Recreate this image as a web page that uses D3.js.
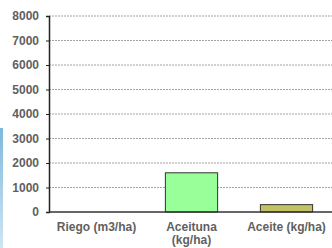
<!doctype html>
<html>
<head>
<meta charset="UTF-8">
<title>Riego / Aceituna / Aceite</title>
<script src="https://cdn.jsdelivr.net/npm/d3@7"></script>
<style>
    body { margin: 0; background: #fff; }
    .tick text { font-family: Arial, "Liberation Sans", sans-serif; font-weight: bold; fill: #5f5f5f; }
    .grid line { stroke: #8c8c8c; stroke-dasharray: 2,1; stroke-width: 0.8; }
</style>
</head>
<body>
<svg id="chart" width="332" height="248"></svg>
<script>
var categories = [["Riego (m3/ha)"], ["Aceituna", "(kg/ha)"], ["Aceite (kg/ha)"]];
var values = [0, 1600, 300];
var barColors = ["#99ff99", "#99ff99", "#c2c264"];
var yTicks = [0, 1000, 2000, 3000, 4000, 5000, 6000, 7000, 8000];

var svg = d3.select("#chart"),
    mLeft = 49, mRight = 334, mTop = 16, mBottom = 212;

var x = d3.scaleBand()
    .domain(d3.range(categories.length))
    .range([mLeft, mRight])
    .paddingInner(0.45)
    .paddingOuter(0.225);

var y = d3.scaleLinear().domain([0, 8000]).range([mBottom, mTop]);

// left edge decoration
var grad = svg.append("defs").append("linearGradient")
    .attr("id", "edge").attr("x1", 0).attr("x2", 0).attr("y1", 0).attr("y2", 1);
grad.append("stop").attr("offset", "0").attr("stop-color", "#7fb8dc");
grad.append("stop").attr("offset", "1").attr("stop-color", "#cfe6f3");
svg.append("rect").attr("x", 0).attr("y", 128).attr("width", 3).attr("height", 120)
    .attr("fill", "url(#edge)");

// gridlines
svg.append("g").attr("class", "grid")
    .selectAll("line")
    .data(yTicks.filter(function(d) { return d > 0; }))
    .enter().append("line")
    .attr("x1", mLeft).attr("x2", 332)
    .attr("y1", function(d) { return y(d); })
    .attr("y2", function(d) { return y(d); });

// bars
var barData = values.map(function(v, i) { return { i: i, v: v }; })
    .filter(function(d) { return d.v > 0; });
svg.append("g").selectAll("rect")
    .data(barData)
    .enter().append("rect")
    .attr("x", function(d) { return x(d.i); })
    .attr("y", function(d) { return y(d.v); })
    .attr("width", x.bandwidth())
    .attr("height", function(d) { return mBottom - y(d.v); })
    .attr("fill", function(d) { return barColors[d.i]; })
    .attr("stroke", "#333")
    .attr("stroke-width", 1);

// y axis
var yAxis = svg.append("g")
    .attr("transform", "translate(" + mLeft + ",0)")
    .call(d3.axisLeft(y).tickValues(yTicks).tickFormat(d3.format("d")).tickSize(3).tickPadding(7));
yAxis.select(".domain").attr("stroke", "#222").attr("stroke-width", 1.5);
yAxis.selectAll(".tick line").attr("stroke", "#222");
yAxis.selectAll(".tick text").attr("font-size", 12);

// x axis line
svg.append("line")
    .attr("x1", mLeft).attr("x2", 332)
    .attr("y1", mBottom).attr("y2", mBottom)
    .attr("stroke", "#333").attr("stroke-width", 1.5);

// category labels
var lab = svg.append("g").selectAll("text")
    .data(categories)
    .enter().append("text")
    .attr("x", function(d, i) { return x(i) + x.bandwidth() / 2; })
    .attr("y", 231)
    .attr("text-anchor", "middle")
    .attr("font-family", "Arial, 'Liberation Sans', sans-serif")
    .attr("font-weight", "bold")
    .attr("font-size", 12)
    .attr("fill", "#5f5f5f");
lab.selectAll("tspan")
    .data(function(d) { return d; })
    .enter().append("tspan")
    .attr("x", function() { return d3.select(this.parentNode).attr("x"); })
    .attr("dy", function(d, i) { return i ? 13 : 0; })
    .text(function(d) { return d; });
</script>
</body>
</html>
